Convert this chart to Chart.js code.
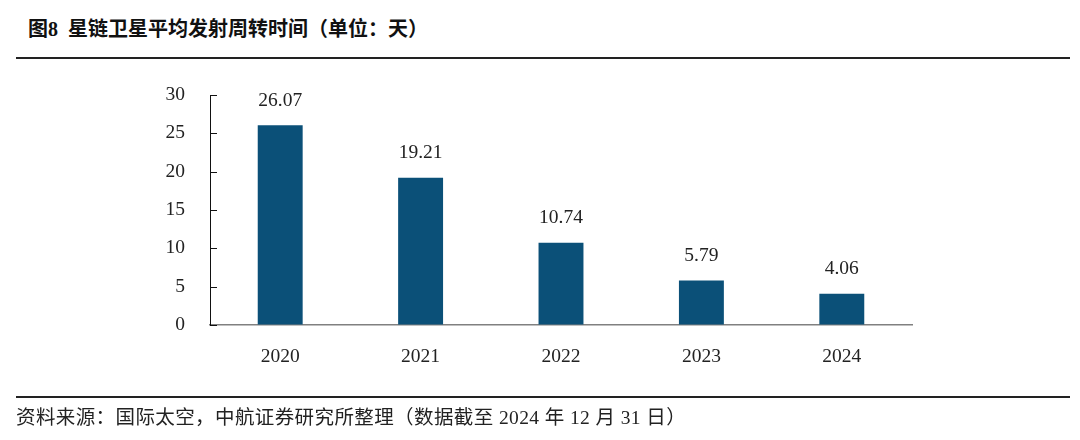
<!DOCTYPE html>
<html>
<head>
<meta charset="utf-8">
<script src="https://cdn.jsdelivr.net/npm/chart.js@4/dist/chart.umd.min.js"></script>
<style>
  html,body{margin:0;padding:0;background:#fff;}
  #wrap{position:relative;width:1080px;height:440px;overflow:hidden;}
  #c{position:absolute;left:0;top:0;}
  .title{position:absolute;left:28px;top:13px;font-family:"Liberation Serif","Noto Sans CJK SC",serif;font-weight:700;font-size:20px;color:#111;white-space:nowrap;}
  .rule{position:absolute;left:16px;width:1054px;height:2px;background:#222;}
  .src{position:absolute;left:16px;top:401px;font-family:"Liberation Serif","Noto Sans CJK SC",serif;font-size:19.5px;letter-spacing:0.4px;color:#222;white-space:nowrap;}
</style>
</head>
<body>
<div id="wrap">
  <div class="title">图8&nbsp; 星链卫星平均发射周转时间（单位：天）</div>
  <div class="rule" style="top:57px"></div>
  <canvas id="c" width="1080" height="440"></canvas>
  <div class="rule" style="top:396px"></div>
  <div class="src">资料来源：国际太空，中航证券研究所整理（数据截至 2024 年 12 月 31 日）</div>
</div>
<script>
const categories = ["2020", "2021", "2022", "2023", "2024"];
const turnaroundDays = [26.07, 19.21, 10.74, 5.79, 4.06];
const yTicks = [0, 5, 10, 15, 20, 25, 30];

const serif = '"Liberation Serif", "DejaVu Serif", serif';

const valueLabels = {
  id: 'valueLabels',
  afterDatasetsDraw(chart) {
    const ctx = chart.ctx;
    const meta = chart.getDatasetMeta(0);
    ctx.save();
    ctx.font = '19.5px ' + serif;
    ctx.fillStyle = '#222';
    ctx.textAlign = 'center';
    ctx.textBaseline = 'bottom';
    meta.data.forEach((bar, i) => {
      ctx.fillText(turnaroundDays[i].toFixed(2), bar.x, bar.y - 15);
    });
    ctx.restore();
  }
};

const innerTicks = {
  id: 'innerTicks',
  afterDraw(chart) {
    const ctx = chart.ctx;
    const y = chart.scales.y;
    ctx.save();
    ctx.strokeStyle = '#111';
    ctx.lineWidth = 1;
    yTicks.forEach(v => {
      const py = Math.round(y.getPixelForValue(v)) + 0.5;
      ctx.beginPath();
      ctx.moveTo(y.right, py);
      ctx.lineTo(y.right + 7, py);
      ctx.stroke();
    });
    ctx.restore();
  }
};

new Chart(document.getElementById('c'), {
  type: 'bar',
  data: {
    labels: categories,
    datasets: [{
      data: turnaroundDays,
      backgroundColor: '#0b5078',
      barPercentage: 0.32,
      categoryPercentage: 1.0
    }]
  },
  options: {
    responsive: false,
    animation: false,
    devicePixelRatio: 1,
    layout: { padding: { left: 110, right: 168, top: 95, bottom: 55 } },
    plugins: { legend: { display: false }, tooltip: { enabled: false } },
    scales: {
      x: {
        grid: { display: false },
        border: { display: true, color: '#808080', width: 1.5 },
        ticks: { font: { family: serif, size: 19.5 }, color: '#222', padding: 12 },
        afterFit(s) { s.height = 60; }
      },
      y: {
        min: 0, max: 30,
        afterBuildTicks(s) { s.ticks = yTicks.map(v => ({ value: v })); },
        grid: { display: true, drawOnChartArea: false, drawTicks: false },
        border: { display: true, color: '#111', width: 1 },
        ticks: { font: { family: serif, size: 19.5 }, color: '#222', padding: 25 },
        afterFit(s) { s.width = 100; }
      }
    }
  },
  plugins: [valueLabels, innerTicks]
});
</script>
</body>
</html>
